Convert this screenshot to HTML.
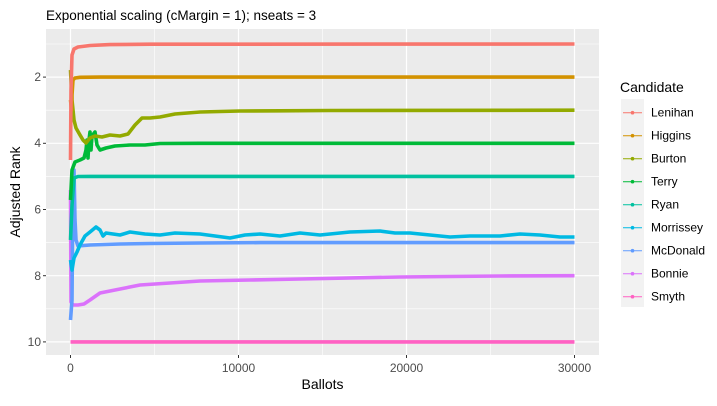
<!DOCTYPE html>
<html><head><meta charset="utf-8"><style>
body{margin:0;background:#fff;font-family:"Liberation Sans",sans-serif}
</style></head><body>
<svg width="717" height="401" xmlns="http://www.w3.org/2000/svg" font-family="Liberation Sans, sans-serif">
<rect width="717" height="401" fill="#fff"/>
<rect x="46" y="29" width="553" height="326" fill="#EBEBEB"/>
<g stroke="#fff" stroke-width="0.6">
<line x1="154.5" x2="154.5" y1="29" y2="355"/><line x1="322.5" x2="322.5" y1="29" y2="355"/><line x1="490.5" x2="490.5" y1="29" y2="355"/>
<line x1="46" x2="599" y1="44" y2="44"/><line x1="46" x2="599" y1="110.2" y2="110.2"/><line x1="46" x2="599" y1="176.4" y2="176.4"/><line x1="46" x2="599" y1="242.6" y2="242.6"/><line x1="46" x2="599" y1="308.8" y2="308.8"/>
</g>
<g stroke="#fff" stroke-width="1.2">
<line x1="70.5" x2="70.5" y1="29" y2="355"/><line x1="238.5" x2="238.5" y1="29" y2="355"/><line x1="406.5" x2="406.5" y1="29" y2="355"/><line x1="574.5" x2="574.5" y1="29" y2="355"/>
<line x1="46" x2="599" y1="77.1" y2="77.1"/><line x1="46" x2="599" y1="143.3" y2="143.3"/><line x1="46" x2="599" y1="209.5" y2="209.5"/><line x1="46" x2="599" y1="275.7" y2="275.7"/><line x1="46" x2="599" y1="341.9" y2="341.9"/>
</g>
<g fill="none" stroke-width="3.6" stroke-linejoin="round">
<polyline stroke="#FF61C3" points="70.5,341.9 574.5,341.9"/>
<polyline stroke="#DB72FB" points="70.5,190 71,302 73,305 78,305 84,304 90,300 100,293 115,290 140,285 170,283 200,281 250,280 300,279 400,277 500,276 574.5,275.7"/>
<polyline stroke="#619CFF" points="70.5,320 72,300 73,180 74,170 75,220 76,240 78,246 90,245 120,244 150,243.5 200,243 260,242.6 574.5,242.6"/>
<polyline stroke="#00B9E3" points="70.5,260 72,270 74,258 77,252 80,245 85,236 90,232 96,227 100,230 103,236 106,233 120,235 130,232 145,234 160,235 175,233 200,234 215,236 230,238 245,235 260,234 280,236 300,233 320,235 350,232 380,231 395,233 410,233 430,235 450,237 470,236 500,236 520,234 540,235 560,237 574.5,237"/>
<polyline stroke="#00C19F" points="70.5,240 72,205 74,178 78,176.5 90,176.4 574.5,176.4"/>
<polyline stroke="#00BA38" points="70.5,200 72,170 75,162 80,160 84,158 86,150 87,140 88,158 89,140 90,132 91,150 92,136 95,132 97,145 100,150 106,148 115,146 130,145 145,145 160,143.5 200,143.3 574.5,143.3"/>
<polyline stroke="#93AA00" points="70.5,70 72,100 74,120 76,128 80,135 83,140 86,143 90,138 95,136 102,137 110,135 120,136 128,134 135,125 142,118 150,118 160,117 175,114 200,112 240,111 280,110.8 330,110.5 574.5,110.2"/>
<polyline stroke="#D39200" points="70.5,100 71.5,110 72,95 73,80 75,78 80,77.3 100,77.1 574.5,77.1"/>
<polyline stroke="#F8766D" points="70.5,160 71,90 72,55 74,49 78,47 90,45.5 110,44.6 150,44.2 574.5,44"/>
</g>
<g font-size="12" fill="#4D4D4D" text-anchor="end">
<text x="41" y="81">2</text><text x="41" y="147">4</text><text x="41" y="213.5">6</text><text x="41" y="280">8</text><text x="41" y="346">10</text>
</g>
<g stroke="#333" stroke-width="1">
<line x1="43" x2="46" y1="77.1" y2="77.1"/><line x1="43" x2="46" y1="143.3" y2="143.3"/><line x1="43" x2="46" y1="209.5" y2="209.5"/><line x1="43" x2="46" y1="275.7" y2="275.7"/><line x1="43" x2="46" y1="341.9" y2="341.9"/>
<line x1="70.5" x2="70.5" y1="355" y2="358"/><line x1="238.5" x2="238.5" y1="355" y2="358"/><line x1="406.5" x2="406.5" y1="355" y2="358"/><line x1="574.5" x2="574.5" y1="355" y2="358"/>
</g>
<g font-size="12" fill="#4D4D4D" text-anchor="middle">
<text x="70.5" y="372">0</text><text x="238.5" y="372">10000</text><text x="406.5" y="372">20000</text><text x="574.5" y="372">30000</text>
</g>
<text x="322.5" y="389" font-size="14" text-anchor="middle" fill="#000">Ballots</text>
<text transform="translate(20,192) rotate(-90)" font-size="14" text-anchor="middle" fill="#000">Adjusted Rank</text>
<text x="46" y="20" font-size="13.5" fill="#000">Exponential scaling (cMargin = 1); nseats = 3</text>
<text x="620" y="92" font-size="14" fill="#000">Candidate</text>
<rect x="621" y="99" width="23" height="208" fill="#F2F2F2"/>
<g font-size="12" fill="#000">
<g transform="translate(0,112.7)"><line x1="623" x2="642" stroke="#F8766D"/><circle cx="632.5" r="1.8" fill="#F8766D"/><text x="651" y="4">Lenihan</text></g>
<g transform="translate(0,135.7)"><line x1="623" x2="642" stroke="#D39200"/><circle cx="632.5" r="1.8" fill="#D39200"/><text x="651" y="4">Higgins</text></g>
<g transform="translate(0,158.7)"><line x1="623" x2="642" stroke="#93AA00"/><circle cx="632.5" r="1.8" fill="#93AA00"/><text x="651" y="4">Burton</text></g>
<g transform="translate(0,181.7)"><line x1="623" x2="642" stroke="#00BA38"/><circle cx="632.5" r="1.8" fill="#00BA38"/><text x="651" y="4">Terry</text></g>
<g transform="translate(0,204.7)"><line x1="623" x2="642" stroke="#00C19F"/><circle cx="632.5" r="1.8" fill="#00C19F"/><text x="651" y="4">Ryan</text></g>
<g transform="translate(0,227.7)"><line x1="623" x2="642" stroke="#00B9E3"/><circle cx="632.5" r="1.8" fill="#00B9E3"/><text x="651" y="4">Morrissey</text></g>
<g transform="translate(0,250.7)"><line x1="623" x2="642" stroke="#619CFF"/><circle cx="632.5" r="1.8" fill="#619CFF"/><text x="651" y="4">McDonald</text></g>
<g transform="translate(0,273.7)"><line x1="623" x2="642" stroke="#DB72FB"/><circle cx="632.5" r="1.8" fill="#DB72FB"/><text x="651" y="4">Bonnie</text></g>
<g transform="translate(0,296.7)"><line x1="623" x2="642" stroke="#FF61C3"/><circle cx="632.5" r="1.8" fill="#FF61C3"/><text x="651" y="4">Smyth</text></g>
</g>
</svg>
</body></html>
